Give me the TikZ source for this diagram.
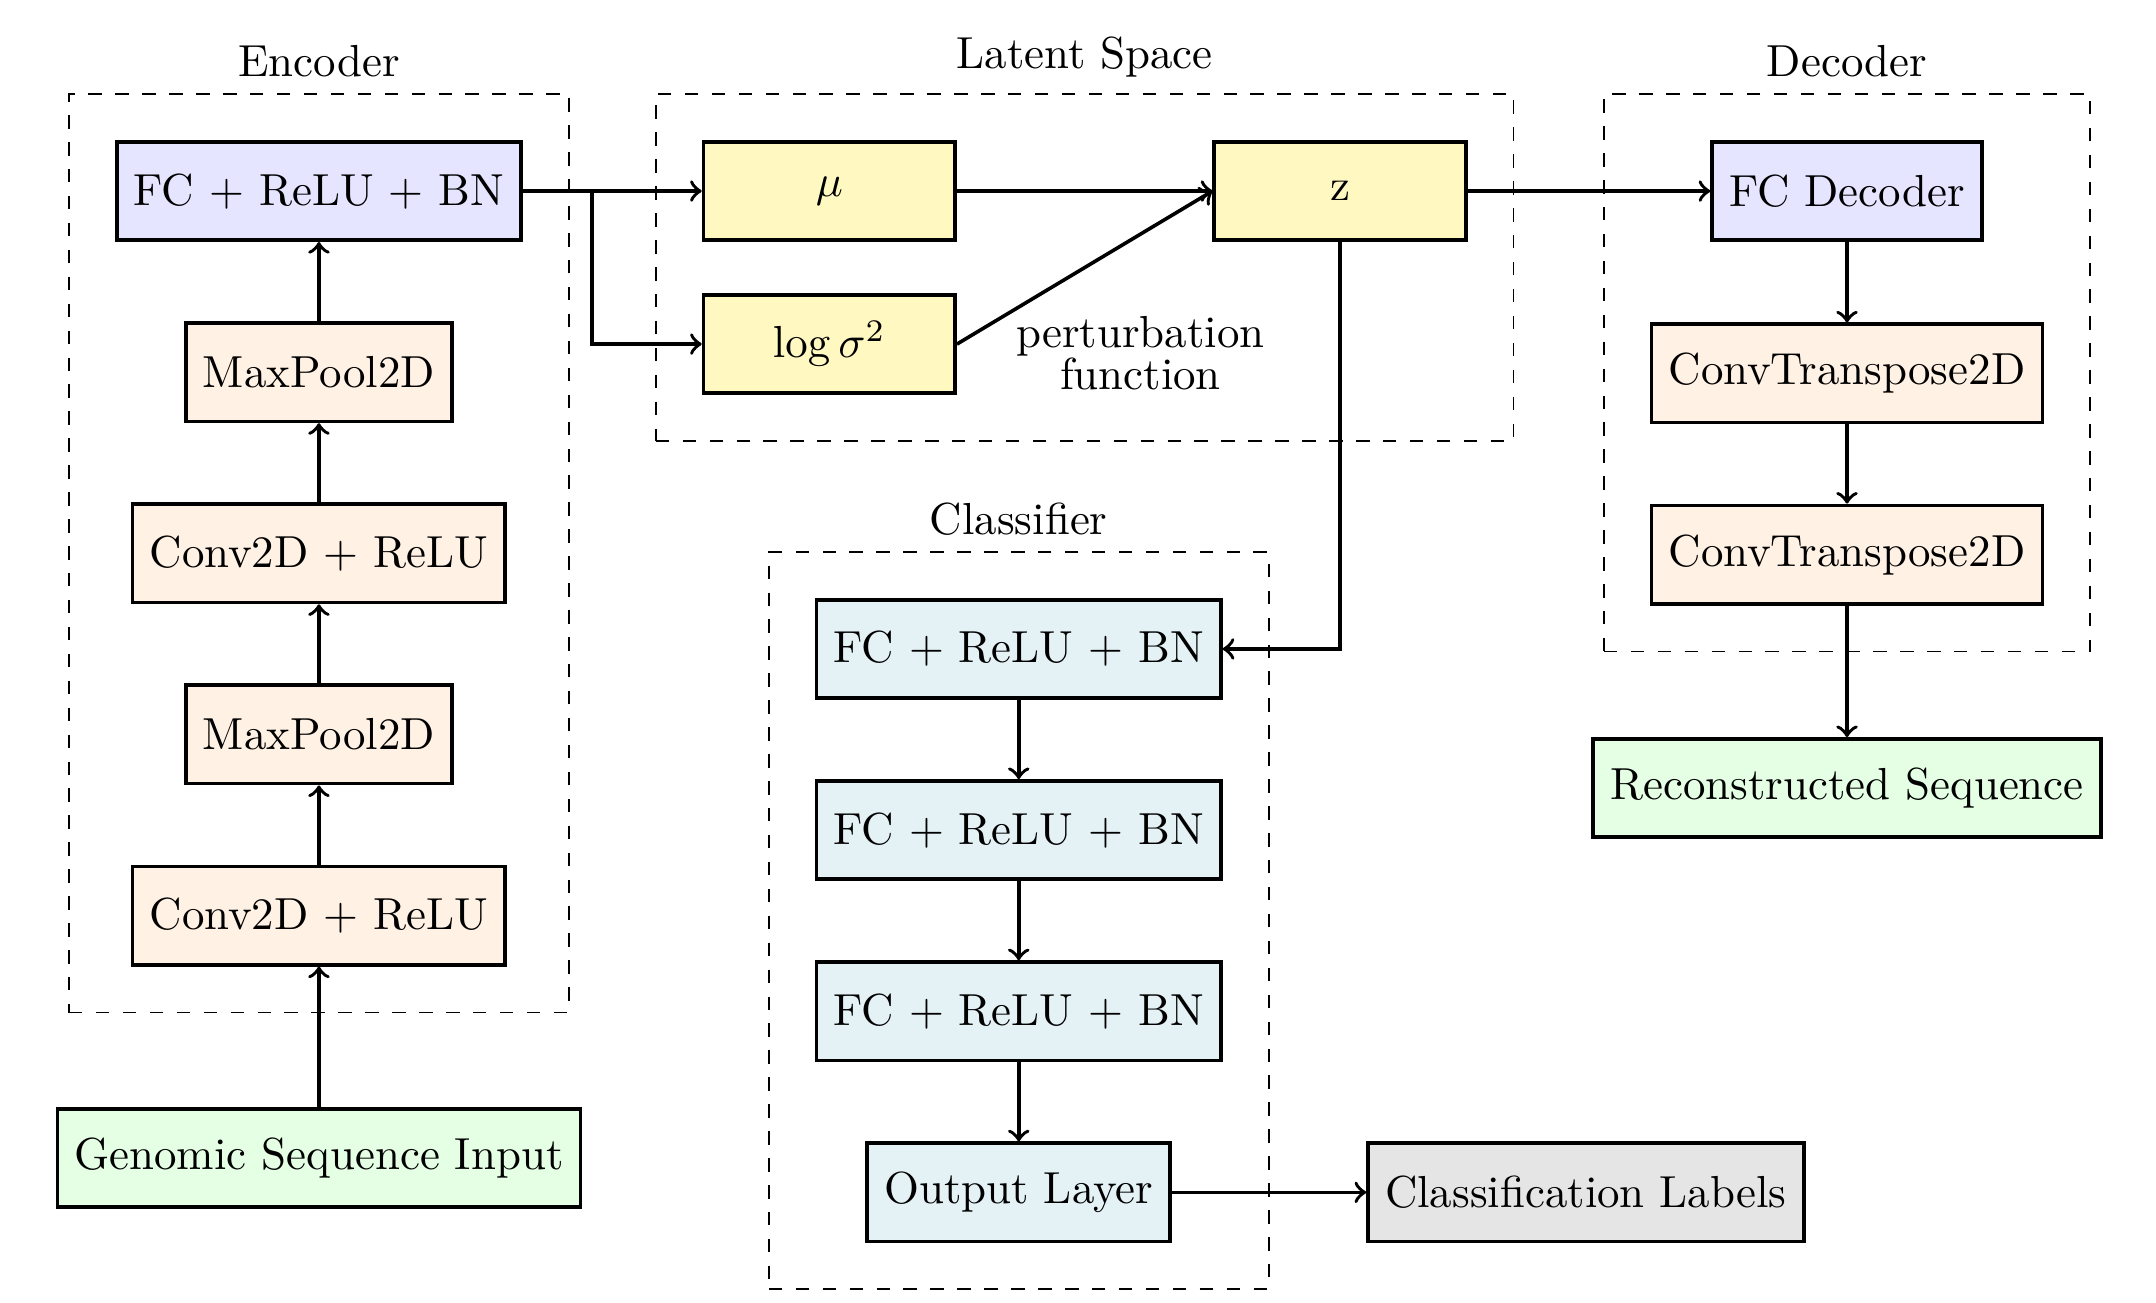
\documentclass[tikz,border=0pt]{standalone}
\usepackage{amsmath}
\usetikzlibrary{positioning, fit, backgrounds}

\definecolor{latentfill}{RGB}{255,248,193}
\definecolor{clsfill}{RGB}{228,241,245}

\begin{document}
\begin{tikzpicture}[
    block/.style={draw, thick, minimum height=0.77cm, inner xsep=3.8pt, align=center},
    fcblock/.style={block, fill=blue!10},
    convblock/.style={block, fill=orange!10},
    latent/.style={block, fill=latentfill, minimum width=1.97cm},
    ioblock/.style={block, fill=green!10},
    clsblock/.style={block, fill=clsfill},
    outblock/.style={block, fill=gray!20},
    group/.style={draw, dashed, inner sep=0.36cm},
    arrow/.style={->, thick}
]
\useasboundingbox (0,0) rectangle (16.88,-10.20);

% Encoder
\node[fcblock] (encfc) at (2.497,-1.496) {FC + ReLU + BN};
\node[convblock, below=0.62cm of encfc] (encpool2) {MaxPool2D};
\node[convblock, below=0.62cm of encpool2] (encconv2) {Conv2D + ReLU};
\node[convblock, below=0.62cm of encconv2] (encpool1) {MaxPool2D};
\node[convblock, below=0.62cm of encpool1] (encconv1) {Conv2D + ReLU};
\node[ioblock, below=1.10cm of encconv1] (input) {Genomic Sequence Input};

% Latent Space
\node[latent, right=1.40cm of encfc] (mu) {$\mu$};
\node[latent, below=0.40cm of mu] (logvar) {$\log\sigma^2$};
\node[latent, right=2.0cm of mu] (z) {z};
\node[right=0.34cm of logvar, yshift=-0.07cm, align=center] (pert) {perturbation\\[-2.8pt]function};

% Decoder
\node[fcblock, right=1.9cm of z] (decfc) {FC Decoder};
\node[convblock, below=0.63cm of decfc] (convt1) {ConvTranspose2D};
\node[convblock, below=0.62cm of convt1] (convt2) {ConvTranspose2D};
\node[ioblock, below=1.03cm of convt2] (recon) {Reconstructed Sequence};

% Classifier
\node[clsblock] (clsfc1) at (7.976,-5.081) {FC + ReLU + BN};
\node[clsblock, below=0.62cm of clsfc1] (clsfc2) {FC + ReLU + BN};
\node[clsblock, below=0.62cm of clsfc2] (clsfc3) {FC + ReLU + BN};
\node[clsblock, below=0.62cm of clsfc3] (clsout) {Output Layer};
\node[outblock, right=1.52cm of clsout] (labels) {Classification Labels};

% Arrows
\draw[arrow] (input) -- (encconv1);
\draw[arrow] (encconv1) -- (encpool1);
\draw[arrow] (encpool1) -- (encconv2);
\draw[arrow] (encconv2) -- (encpool2);
\draw[arrow] (encpool2) -- (encfc);

\coordinate[right=0.54cm of encfc.east] (split);
\draw[arrow] (encfc.east) -- (mu.west);
\draw[arrow] (split) |- (logvar.west);
\draw[arrow] (mu) -- (z);
\draw[arrow] (logvar.east) -- (z.west);
\draw[arrow] (z) -- (decfc);

\draw[arrow] (decfc) -- (convt1);
\draw[arrow] (convt1) -- (convt2);
\draw[arrow] (convt2) -- (recon);

\draw[arrow] (z.south) |- (clsfc1.east);
\draw[arrow] (clsfc1) -- (clsfc2);
\draw[arrow] (clsfc2) -- (clsfc3);
\draw[arrow] (clsfc3) -- (clsout);
\draw[arrow] (clsout) -- (labels);

% Group boxes
\begin{pgfonlayer}{background}
\node[group, fit=(encfc)(encconv1), label=above:Encoder] (encgroup) {};
\node[group, fit=(mu)(logvar)(z), label=above:Latent Space] (latgroup) {};
\node[group, fit=(decfc)(convt1)(convt2), label=above:Decoder] (decgroup) {};
\node[group, fit=(clsfc1)(clsout), label=above:Classifier] (clsgroup) {};
\end{pgfonlayer}

\end{tikzpicture}
\end{document}
